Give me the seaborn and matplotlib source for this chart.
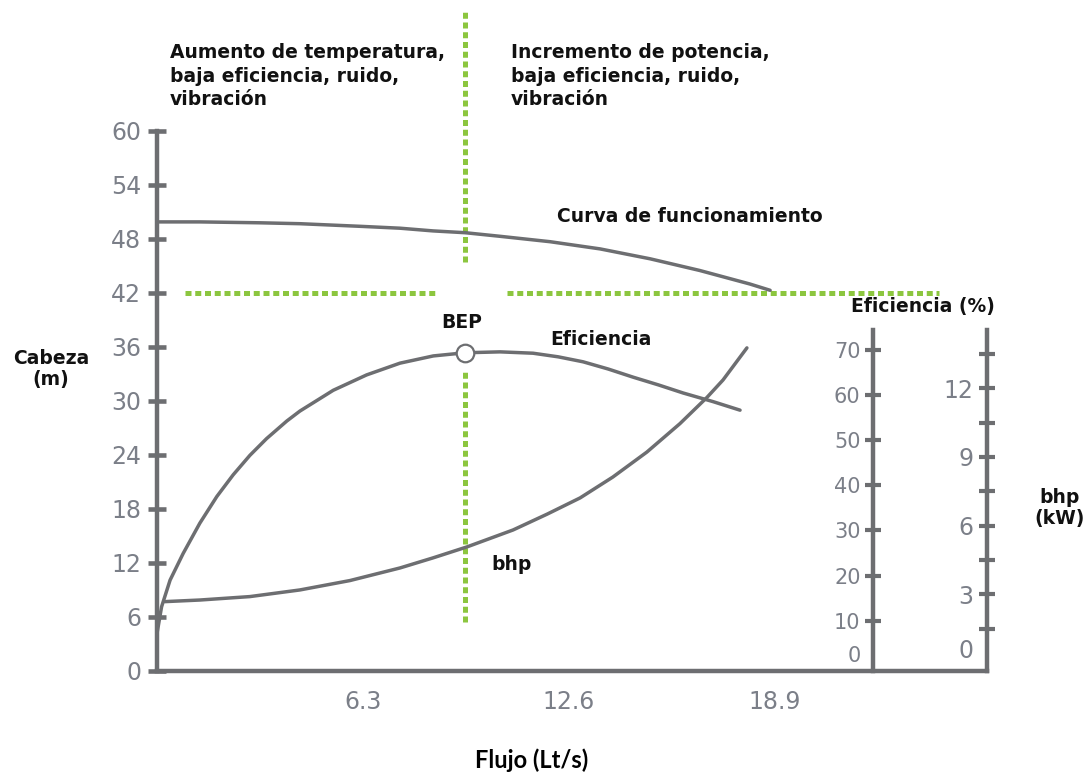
import matplotlib
matplotlib.use("Agg")
import matplotlib.pyplot as plt
import seaborn as sns

# ---------------- data ----------------
flow_head = [0.0, 1.31, 3.15, 4.37, 6.27, 7.43, 8.44, 9.42, 10.49, 12.02,
             13.55, 15.08, 16.60, 18.13, 18.75]
head_m = [49.9, 49.9, 49.8, 49.7, 49.4, 49.2, 48.9, 48.7, 48.3, 47.7,
          46.9, 45.8, 44.5, 43.0, 42.3]

flow_eff = [0.0, 0.14, 0.40, 0.80, 1.31, 1.83, 2.33, 2.84, 3.35, 3.97, 4.37,
            5.39, 6.41, 7.43, 8.45, 9.42, 10.49, 11.50, 12.27, 13.03, 13.80,
            14.56, 15.33, 16.09, 17.00, 17.83]
eff_pct = [7.2, 13.1, 19.0, 24.9, 31.6, 37.5, 42.3, 46.6, 50.3, 54.2, 56.4,
           61.0, 64.4, 67.0, 68.6, 69.3, 69.5, 69.2, 68.4, 67.3, 65.7,
           63.9, 62.2, 60.4, 58.5, 56.6]

flow_bhp = [0.24, 1.31, 2.84, 4.37, 5.90, 7.43, 8.44, 9.48, 10.89, 11.93, 12.94,
            13.94, 14.98, 15.99, 16.82, 17.31, 18.04]
bhp_kw = [2.68, 2.75, 2.90, 3.19, 3.60, 4.15, 4.59, 5.07, 5.81, 6.50, 7.21,
          8.12, 9.21, 10.45, 11.60, 12.36, 13.76]

bep_flow = [9.42]
bep_eff = [69.3]
limit_head = 42.0
limit_flow = 9.42

head_ticks = [0, 6, 12, 18, 24, 30, 36, 42, 48, 54, 60]
flow_ticks = [3.15, 6.3, 9.45, 12.6, 15.75, 18.9]
flow_labels = ["", "6.3", "", "12.6", "", "18.9"]
eff_ticks = [0, 10, 20, 30, 40, 50, 60, 70]
bhp_major = [0, 3, 6, 9, 12]
bhp_minor = [1.5, 4.5, 7.5, 10.5, 13.5]

# ---------------- style ----------------
sns.set_style("white")
plt.rcParams["font.family"] = ["DejaVu Sans"]

W, H = 1088, 773
AX_COL = "#6d6e71"
TICK_COL = "#7b7f88"
GREEN = "#8cc63f"

fig = plt.figure(figsize=(W / 100, H / 100), dpi=100)
ax = fig.add_axes([157 / W, 1 - 671 / H, 831 / W, 661 / H])
ax.set_xlim(0, 831 / 32.7)
ax.set_ylim(0, 661 / 9.0)

x_eff_axis = (873 - 157) / 32.7
x_bhp_axis = (987 - 157) / 32.7

for s in ["top", "right"]:
    ax.spines[s].set_visible(False)
for s in ["left", "bottom"]:
    ax.spines[s].set_color(AX_COL)
    ax.spines[s].set_linewidth(3.2)
ax.spines["left"].set_bounds(0, 60)
ax.spines["bottom"].set_bounds(0, x_bhp_axis)

ax.set_yticks(head_ticks)
ax.set_yticklabels([str(v) for v in head_ticks])
ax.set_xticks(flow_ticks)
ax.set_xticklabels(flow_labels)
ax.tick_params(axis="y", direction="inout", length=13, width=3.3, color=AX_COL,
               labelsize=17, labelcolor=TICK_COL, pad=5)
ax.tick_params(axis="x", direction="inout", length=16, width=3.0, color=AX_COL,
               labelsize=17, labelcolor=TICK_COL, pad=6)
ax.yaxis.get_major_ticks()[0].tick1line.set_visible(False)
ax.grid(False)

# green guide lines
dots = (0, (1.2, 0.75))
ax.vlines(limit_flow, 45.4, 73.4, colors=GREEN, lw=3.6, linestyles=dots)
ax.vlines(limit_flow, 5.4, 33.2, colors=GREEN, lw=3.6, linestyles=dots)
ax.hlines(limit_head, 0.86, 8.56, colors=GREEN, lw=3.6, linestyles=dots)
ax.hlines(limit_head, 10.7, 23.9, colors=GREEN, lw=3.6, linestyles=dots)

# head curve
sns.lineplot(x=flow_head, y=head_m, ax=ax, color=AX_COL, lw=2.5,
             estimator=None, sort=False, zorder=3)

# efficiency axis
ax2 = ax.twinx()
ax2.set_ylim(-5 / 4.52, 656 / 4.52)
for s in ["top", "right", "bottom"]:
    ax2.spines[s].set_visible(False)
ax2.spines["left"].set_visible(True)
ax2.spines["left"].set_position(("data", x_eff_axis))
ax2.spines["left"].set_bounds(-5 / 4.52, (666 - 330) / 4.52)
ax2.spines["left"].set_color(AX_COL)
ax2.spines["left"].set_linewidth(3.2)
ax2.yaxis.set_ticks_position("left")
ax2.yaxis.set_label_position("left")
ax2.set_yticks(eff_ticks)
ax2.set_yticklabels([str(v) for v in eff_ticks])
ax2.tick_params(axis="y", direction="inout", length=12, width=3.0, color=AX_COL,
                labelsize=15, labelcolor=TICK_COL, pad=3)
t0 = ax2.yaxis.get_major_ticks()[0]
t0.tick1line.set_visible(False)
t0.label1.set_verticalalignment("bottom")
ax2.grid(False)

sns.lineplot(x=flow_eff, y=eff_pct, ax=ax2, color=AX_COL, lw=2.5,
             estimator=None, sort=False, zorder=3)
ax2.scatter(bep_flow, bep_eff, s=160, facecolor="white", edgecolor=AX_COL,
            linewidth=1.6, zorder=5)

# bhp axis
ax3 = ax.twinx()
ax3.set_ylim(-8 / 22.9, 653 / 22.9)
for s in ["top", "right", "bottom"]:
    ax3.spines[s].set_visible(False)
ax3.spines["left"].set_visible(True)
ax3.spines["left"].set_position(("data", x_bhp_axis))
ax3.spines["left"].set_bounds(-8 / 22.9, (663 - 330) / 22.9)
ax3.spines["left"].set_color(AX_COL)
ax3.spines["left"].set_linewidth(3.2)
ax3.yaxis.set_ticks_position("left")
ax3.yaxis.set_label_position("left")
ax3.set_yticks(bhp_major)
ax3.set_yticklabels([str(v) for v in bhp_major])
ax3.set_yticks(bhp_minor, minor=True)
ax3.tick_params(axis="y", which="both", direction="inout", length=12, width=3.0,
                color=AX_COL, labelsize=17, labelcolor=TICK_COL, pad=4)
b0 = ax3.yaxis.get_major_ticks()[0]
b0.tick1line.set_visible(False)
b0.label1.set_verticalalignment("bottom")
ax3.grid(False)

sns.lineplot(x=flow_bhp, y=bhp_kw, ax=ax3, color=AX_COL, lw=2.5,
             estimator=None, sort=False, zorder=3)

for a in (ax2, ax3):
    a.set_ylabel("")
ax.set_xlabel("")
ax.set_ylabel("")


def ftext(px, py, s, **kw):
    fig.text(px / W, 1 - py / H, s, **kw)


bold = dict(fontsize=13.5, fontweight="bold", color="#111111")
ftext(170, 76, "Aumento de temperatura,\nbaja eficiencia, ruido,\nvibración",
      ha="left", va="center", linespacing=1.32, **bold)
ftext(511, 76, "Incremento de potencia,\nbaja eficiencia, ruido,\nvibración",
      ha="left", va="center", linespacing=1.32, **bold)
ftext(690, 217, "Curva de funcionamiento", ha="center", va="center", **bold)
ftext(462, 322, "BEP", ha="center", va="center", **bold)
ftext(601, 339, "Eficiencia", ha="center", va="center", **bold)
ftext(512, 565, "bhp", ha="center", va="center", **bold)
ftext(923, 307, "Eficiencia (%)", ha="center", va="center", **bold)
ftext(51, 369, "Cabeza\n(m)", ha="center", va="center", linespacing=1.15, **bold)
ftext(1060, 508, "bhp\n(kW)", ha="center", va="center", linespacing=1.15, **bold)
fig.text(532 / W, 1 - 760 / H, "Flujo (Lt/s)", ha="center", va="center",
         fontsize=17, fontweight="bold", family=["Lato", "DejaVu Sans"], color="#000000")

fig.savefig("out.png", dpi=100)
